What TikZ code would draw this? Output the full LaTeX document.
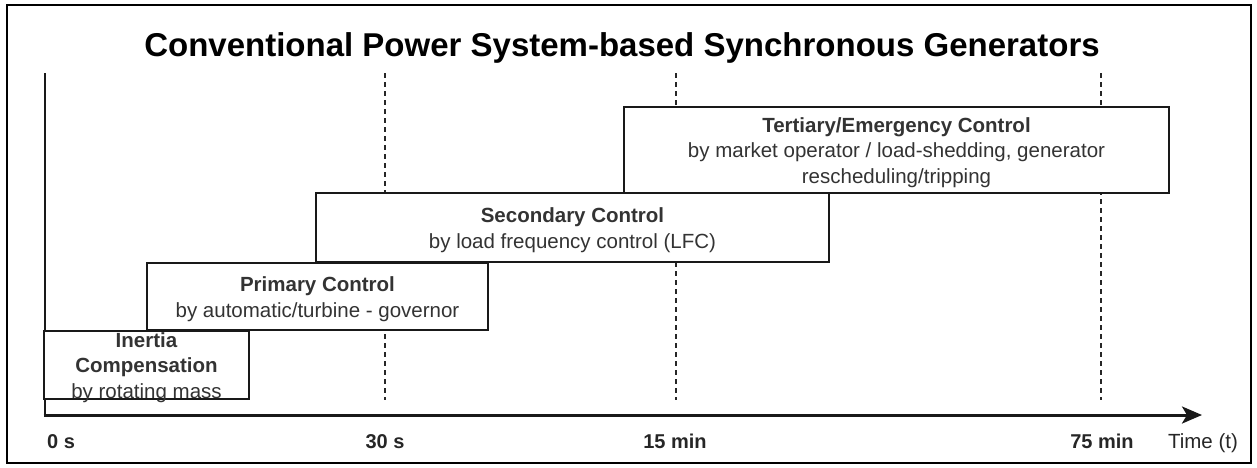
\documentclass[tikz,border=0pt]{standalone}
\usepackage{fontspec}
\setmainfont{Liberation Sans}
\usetikzlibrary{arrows.meta}
\definecolor{ink}{HTML}{333333}
\begin{document}
\begin{tikzpicture}[x=1pt,y=-1pt,
  stagebox/.style={draw=black!90,line width=2.6pt,fill=white,inner sep=0pt,anchor=center},
  stagetext/.style={text=ink,align=center,inner sep=0pt,yshift=-2.5pt,font=\fontsize{20.5}{25.5}\selectfont},
  tick/.style={draw=black!85,line width=1.3pt,dash pattern=on 5pt off 4pt},
  ticklabel/.style={text=black!85,font=\fontsize{20}{24}\selectfont\bfseries,anchor=base}]
  \useasboundingbox (0,0) rectangle (1257,467);
  \draw[line width=2pt] (7,5) rectangle (1251,463);

  % title
  \node[font=\fontsize{33}{39}\selectfont\bfseries,anchor=base] (title) at (622,56)
    {Conventional Power System-based Synchronous Generators};

  % time marks
  \coordinate (t0top) at (45,73);
  \coordinate (origin) at (45,415);
  \coordinate (tip) at (1202,415);
  \coordinate (m30top) at (385,73);   \coordinate (m30bot) at (385,400);
  \coordinate (m15top) at (676,73);   \coordinate (m15bot) at (676,400);
  \coordinate (m75top) at (1101,73);  \coordinate (m75bot) at (1101,400);
  \draw[tick] (m30top) -- (m30bot);
  \draw[tick] (m15top) -- (m15bot);
  \draw[tick] (m75top) -- (m75bot);
  \draw[line width=1.6pt,black!90] (t0top) -- (origin);
  \draw[line width=3pt,black!90,-{Stealth[length=20pt,width=17pt,inset=5pt]}] ([xshift=-1.5pt]origin) -- (tip);

  % stage boxes
  \node[stagebox,minimum width=545pt,minimum height=86pt] (tertiary) at (896.5,150) {};
  \node[stagebox,minimum width=513pt,minimum height=69pt] (secondary) at (572.5,227.5) {};
  \node[stagebox,minimum width=341pt,minimum height=67pt] (primary) at (317.5,296.5) {};
  \node[stagebox,minimum width=205pt,minimum height=68pt] (inertia) at (146.5,365) {};

  \node[stagetext] (tertiarytxt) at (tertiary.center)
    {\textbf{Tertiary/Emergency Control}\\by market operator / load-shedding, generator\\rescheduling/tripping};
  \node[stagetext] (secondarytxt) at (secondary.center)
    {\textbf{Secondary Control}\\by load frequency control (LFC)};
  \node[stagetext] (primarytxt) at (primary.center)
    {\textbf{Primary Control}\\by automatic/turbine - governor};
  \node[stagetext] (inertiatxt) at (inertia.center)
    {\textbf{Inertia}\\\textbf{Compensation}\\by rotating mass};

  % axis labels
  \node[ticklabel] (l0) at (61,448) {0 s};
  \node[ticklabel] (l30) at (385,448) {30 s};
  \node[ticklabel] (l15) at (675,448) {15 min};
  \node[ticklabel] (l75) at (1102,448) {75 min};
  \node[text=black!85,font=\fontsize{20.5}{24}\selectfont,anchor=base] (ltime) at (1203,448) {Time (t)};
\end{tikzpicture}
\end{document}
